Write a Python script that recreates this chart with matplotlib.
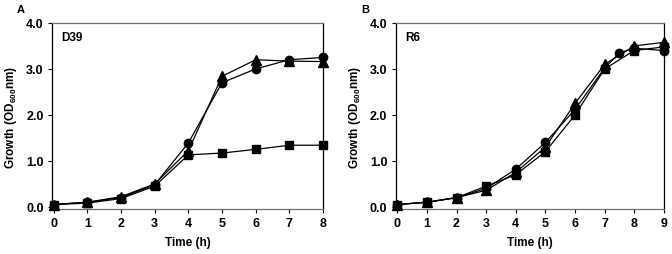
import matplotlib
matplotlib.use("Agg")
import matplotlib.pyplot as plt

matplotlib.rc("font", family=["Liberation Sans", "DejaVu Sans"], weight="bold", size=8.5)
matplotlib.rc("mathtext", default="regular")

# Panel A: D39
time_a = [0, 1, 2, 3, 4, 5, 6, 7, 8]
tri_a = [0.05, 0.10, 0.22, 0.50, 1.22, 2.84, 3.20, 3.17, 3.16]
circ_a = [0.05, 0.10, 0.20, 0.48, 1.39, 2.70, 3.00, 3.20, 3.25]
sq_a = [0.05, 0.08, 0.18, 0.45, 1.13, 1.17, 1.25, 1.34, 1.34]

# Panel B: R6
time_b = [0, 1, 2, 3, 4, 5, 6, 7, 8, 9]
tri_b = [0.05, 0.10, 0.20, 0.36, 0.75, 1.30, 2.25, 3.10, 3.50, 3.58]
time_b_circ = [0, 1, 2, 3, 4, 5, 6, 7, 7.5, 8, 9]
circ_b = [0.05, 0.10, 0.20, 0.40, 0.82, 1.40, 2.12, 3.02, 3.35, 3.45, 3.40]
sq_b = [0.05, 0.10, 0.20, 0.45, 0.70, 1.20, 2.00, 3.00, 3.40, 3.48]

YLABEL = r"Growth (OD$_{600}$nm)"


def StylePanel(ax, xmax, name, letter):
    ax.set_xlim(-0.05, xmax)
    ax.set_ylim(-0.05, 4.0)
    ax.set_xticks(range(0, xmax + 1))
    ax.set_yticks([0, 1, 2, 3, 4])
    ax.set_yticklabels(["0.0", "1.0", "2.0", "3.0", "4.0"])
    ax.tick_params(direction="out", length=3, width=0.8, pad=3, labelsize=9)
    for lbl in ax.get_xticklabels() + ax.get_yticklabels():
        lbl.set_fontweight("bold")
    for side in ["left", "right"]:
        ax.spines[side].set_color("black")
        ax.spines[side].set_linewidth(0.9)
    for side in ["top", "bottom"]:
        ax.spines[side].set_color("#707070")
        ax.spines[side].set_linewidth(0.9)
    ax.set_xlabel("Time (h)", fontsize=8.5, fontweight="bold", labelpad=5)
    ax.set_ylabel(YLABEL, fontsize=8.5, fontweight="bold", labelpad=5)
    ax.text(0.035, 0.955, name, transform=ax.transAxes, ha="left", va="top",
            fontsize=8.5, fontweight="bold")
    ax.text(-0.13, 1.10, letter, transform=ax.transAxes, ha="left", va="top",
            fontsize=8, fontweight="bold")


def PlotSeries(ax, x, y, marker, ms):
    ax.plot(x, y, color="black", linewidth=0.9, marker=marker, markersize=ms,
            markerfacecolor="black", markeredgecolor="black", clip_on=False, zorder=3)


if __name__ == "__main__":
    fig = plt.figure(figsize=(6.72, 2.55), dpi=100)
    ax_a = fig.add_axes([0.0774, 0.176, 0.4033, 0.730])
    ax_b = fig.add_axes([0.589, 0.176, 0.399, 0.730])

    PlotSeries(ax_a, time_a, sq_a, "s", 5.5)
    PlotSeries(ax_a, time_a, circ_a, "o", 6)
    PlotSeries(ax_a, time_a, tri_a, "^", 6.5)
    StylePanel(ax_a, 8, "D39", "A")

    PlotSeries(ax_b, time_b, sq_b, "s", 5.5)
    PlotSeries(ax_b, time_b_circ, circ_b, "o", 6)
    PlotSeries(ax_b, time_b, tri_b, "^", 6.5)
    StylePanel(ax_b, 9, "R6", "B")

    fig.savefig("out.png", dpi=100)
